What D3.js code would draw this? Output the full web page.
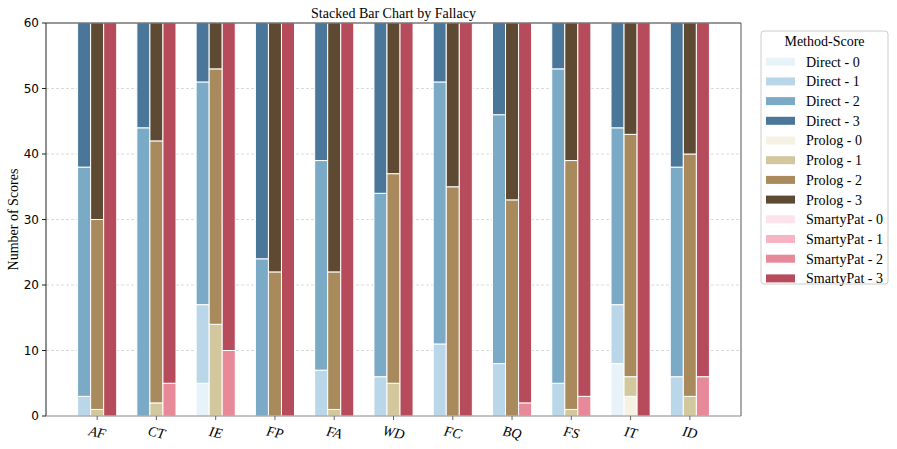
<!DOCTYPE html>
<html><head><meta charset="utf-8">
<script src="https://cdn.jsdelivr.net/npm/d3@7"></script>
<style>body{margin:0;background:#fff}</style>
</head><body>
<svg id="c" width="897" height="449"></svg>
<script>
const fallacies = ["AF","CT","IE","FP","FA","WD","FC","BQ","FS","IT","ID"];
const methods = ["Direct","Prolog","SmartyPat"];
const scores = [0,1,2,3];
// counts per fallacy for scores 0..3
const direct = [[0,3,35,22],[0,0,44,16],[5,12,34,9],[0,0,24,36],[0,7,32,21],[0,6,28,26],[0,11,40,9],[0,8,38,14],[0,5,48,7],[8,9,27,16],[0,6,32,22]];
const prolog = [[0,1,29,30],[0,2,40,18],[0,14,39,7],[0,0,22,38],[0,1,21,38],[0,5,32,23],[0,0,35,25],[0,0,33,27],[0,1,38,21],[3,3,37,17],[0,3,37,20]];
const smartypat = [[0,0,0,60],[0,0,5,55],[0,0,10,50],[0,0,0,60],[0,0,0,60],[0,0,0,60],[0,0,0,60],[0,0,2,58],[0,0,3,57],[0,0,0,60],[0,0,6,54]];
const yTicks = [0,10,20,30,40,50,60];
const colors = {
  Direct:["#e8f3f9","#b9d7e9","#7aaac6","#4a7799"],
  Prolog:["#f5f2e4","#d3c89d","#a98a5d","#5e4a32"],
  SmartyPat:["#fde4ec","#f8b3c5","#e8899a","#b64b5c"]
};
const dataBy = {Direct:direct, Prolog:prolog, SmartyPat:smartypat};

const svg = d3.select("#c");
const L=46, R=741, T=23, B=416;
const w = 0.22;
const x = d3.scaleLinear().domain([-0.5-1.65*w, 10.5+1.65*w]).range([L,R]);
const y = d3.scaleLinear().domain([0,60]).range([B,T]);

// grid
svg.append("g").selectAll("line").data(yTicks.filter(t=>t>0&&t<60)).join("line")
  .attr("x1",L).attr("x2",R).attr("y1",d=>y(d)).attr("y2",d=>y(d))
  .attr("stroke","#d0d0d0").attr("stroke-width",0.8).attr("stroke-dasharray","3,2");

// bars
const g = svg.append("g");
methods.forEach((m,mi)=>{
  const off = (mi-1)*w;
  dataBy[m].forEach((vals,fi)=>{
    let cum=0;
    vals.forEach((v,si)=>{
      if(v>0){
        g.append("rect")
          .attr("x", x(fi+off-w/2)).attr("width", x(w)-x(0))
          .attr("y", y(cum+v)).attr("height", y(cum)-y(cum+v))
          .attr("fill", colors[m][si]).attr("stroke","#fff").attr("stroke-width",1);
      }
      cum+=v;
    });
  });
});

// spines
svg.append("line").attr("x1",L).attr("x2",R).attr("y1",T).attr("y2",T).attr("stroke","#333").attr("stroke-width",1);
svg.append("line").attr("x1",R).attr("x2",R).attr("y1",T).attr("y2",B).attr("stroke","#555").attr("stroke-width",1);
svg.append("line").attr("x1",L).attr("x2",L).attr("y1",T).attr("y2",B).attr("stroke","#222").attr("stroke-width",1);
svg.append("line").attr("x1",L).attr("x2",R).attr("y1",B).attr("y2",B).attr("stroke","#888").attr("stroke-width",1.2);

// y ticks
const yt = svg.append("g");
yTicks.forEach(t=>{
  yt.append("line").attr("x1",L-4).attr("x2",L).attr("y1",y(t)).attr("y2",y(t)).attr("stroke","#222");
  yt.append("text").attr("x",L-7).attr("y",y(t)).attr("dy","0.36em").attr("text-anchor","end")
    .attr("font-family","DejaVu Sans").attr("font-size",12).attr("fill","#000").text(t);
});
// x ticks
fallacies.forEach((f,i)=>{
  svg.append("line").attr("x1",x(i)).attr("x2",x(i)).attr("y1",B).attr("y2",B+4).attr("stroke","#666");
  svg.append("text").attr("transform",`translate(${x(i)},${B+17}) rotate(12)`)
    .attr("text-anchor","middle").attr("dy","0.3em")
    .attr("font-family","Liberation Serif").attr("font-style","italic").attr("font-size",14).text(f);
});
// labels
svg.append("text").attr("x",(L+R)/2).attr("y",18).attr("text-anchor","middle")
  .attr("font-family","Liberation Serif").attr("font-size",14).text("Stacked Bar Chart by Fallacy");
svg.append("text").attr("transform",`translate(18,${(T+B)/2}) rotate(-90)`).attr("text-anchor","middle")
  .attr("font-family","Liberation Serif").attr("font-size",14).text("Number of Scores");

// legend
const lg = svg.append("g");
lg.append("rect").attr("x",761).attr("y",31).attr("width",127).attr("height",253).attr("rx",3)
  .attr("fill","#fff").attr("stroke","#ccc").attr("stroke-width",1);
lg.append("text").attr("x",824.5).attr("y",46).attr("text-anchor","middle")
  .attr("font-family","Liberation Serif").attr("font-size",14).text("Method-Score");
let k=0;
methods.forEach(m=>{
  scores.forEach(s=>{
    const cy = 61.7 + k*19.7;
    lg.append("rect").attr("x",766).attr("y",cy-4).attr("width",29).attr("height",8).attr("fill",colors[m][s]);
    lg.append("text").attr("x",806).attr("y",cy).attr("dy","0.35em")
      .attr("font-family","Liberation Serif").attr("font-size",14).text(`${m} - ${s}`);
    k++;
  });
});
</script>
</body></html>
